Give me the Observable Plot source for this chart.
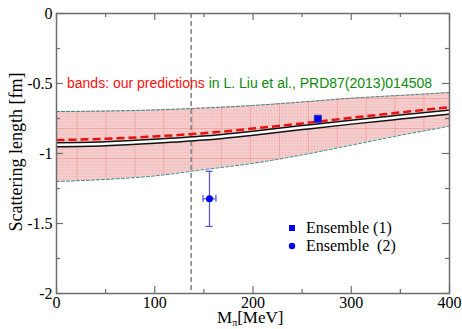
<!DOCTYPE html>
<html><head><meta charset="utf-8">
<script src="https://cdn.jsdelivr.net/npm/d3@7"></script>
<script src="https://cdn.jsdelivr.net/npm/@observablehq/plot@0.6"></script>
<style>html,body{margin:0;padding:0;background:#fff;} #chart{width:462px;height:329px;}</style>
</head><body><div id="chart"></div>
<script>
// ---- data ----
const pionMass = [0, 50, 100, 150, 200, 250, 300, 350, 400];           // MeV
const bandUpper = [-0.700, -0.697, -0.689, -0.675, -0.657, -0.632, -0.605, -0.585, -0.565];
const bandLower = [-1.200, -1.185, -1.160, -1.115, -1.070, -1.010, -0.940, -0.870, -0.805];
const predCentral = [-0.904, -0.895, -0.878, -0.855, -0.822, -0.785, -0.745, -0.707, -0.669];
const fitCurve = [-0.937, -0.930, -0.913, -0.890, -0.855, -0.815, -0.776, -0.740, -0.705];
const physicalPionMass = [137];
const ensembleNames = ["Ensemble (1)", "Ensemble  (2)"];
const ensembleMass = [266, 155.7];
const ensembleMassErr = [2.5, 6.6];
const ensembleA = [-0.752, -1.324];
const ensembleAErr = [0.008, 0.197];
const ensembleSymbol = ["square", "circle"];
const xTicks = [0, 100, 200, 300, 400];
const xMinorTicks = [50, 150, 250, 350];
const yTicks = [0, -0.5, -1, -1.5, -2];
const yTickLabels = ["0", "-0.5", "-1", "-1.5", "-2"];
const yMinorTicks = [-0.25, -0.75, -1.25, -1.75];

// ---- layout ----
const W = 462, H = 329, mL = 56, mR = 13, mT = 13, mB = 36;
const pw = W - mL - mR, ph = H - mT - mB;
const blue = "#0000f0", errBlue = "#5050d8", axisGray = "#6e6e6e";

const band = pionMass.map((m, i) => ({m, hi: bandUpper[i], lo: bandLower[i], red: predCentral[i], fit: fitCurve[i]}));
const pts = ensembleNames.map((name, i) => ({name, m: ensembleMass[i], dm: ensembleMassErr[i], a: ensembleA[i], da: ensembleAErr[i], sym: ensembleSymbol[i]}));
const capM = 3.6, capA = 0.025;

const plot = Plot.plot({
  width: W, height: H, marginLeft: mL, marginRight: mR, marginTop: mT, marginBottom: mB,
  x: {domain: [0, 400], label: null},
  y: {domain: [-2, 0], label: null},
  style: {fontFamily: "'Liberation Serif', 'Times New Roman', serif", fontSize: "16px", color: "#000", background: "#fff"},
  marks: [
    Plot.areaY(band, {x: "m", y1: "lo", y2: "hi", fill: "#f5cccc", curve: "monotone-x"}),
    Plot.areaY(band, {x: "m", y1: "lo", y2: "hi", fill: "url(#bandGrid)", curve: "monotone-x"}),
    Plot.line(band, {x: "m", y: "hi", stroke: "#3d7f80", strokeWidth: 1, strokeDasharray: "3,2", curve: "monotone-x"}),
    Plot.line(band, {x: "m", y: "lo", stroke: "#3d7f80", strokeWidth: 1, strokeDasharray: "3,2", curve: "monotone-x"}),
    Plot.ruleX(physicalPionMass, {x: d => d, stroke: "#808080", strokeWidth: 1.5, strokeDasharray: "5,3"}),
    Plot.line(band, {x: "m", y: "fit", stroke: "#111", strokeWidth: 5.5, strokeLinecap: "butt", curve: "monotone-x"}),
    Plot.line(band, {x: "m", y: "fit", stroke: "#fff", strokeWidth: 2.5, strokeLinecap: "butt", curve: "monotone-x"}),
    Plot.line(band, {x: "m", y: "red", stroke: "#e81010", strokeWidth: 2.5, strokeLinecap: "butt", strokeDasharray: "8,4", curve: "monotone-x"}),
    // error bars
    Plot.ruleX(pts, {x: "m", y1: d => d.a - d.da, y2: d => d.a + d.da, stroke: errBlue, strokeWidth: 1.2}),
    Plot.ruleY(pts, {y: "a", x1: d => d.m - d.dm, x2: d => d.m + d.dm, stroke: errBlue, strokeWidth: 1.2}),
    Plot.ruleY(pts, {y: d => d.a - d.da, x1: d => d.m - capM, x2: d => d.m + capM, stroke: errBlue, strokeWidth: 1.2}),
    Plot.ruleY(pts, {y: d => d.a + d.da, x1: d => d.m - capM, x2: d => d.m + capM, stroke: errBlue, strokeWidth: 1.2}),
    Plot.ruleX(pts, {x: d => d.m - d.dm, y1: d => d.a - capA, y2: d => d.a + capA, stroke: errBlue, strokeWidth: 1.2}),
    Plot.ruleX(pts, {x: d => d.m + d.dm, y1: d => d.a - capA, y2: d => d.a + capA, stroke: errBlue, strokeWidth: 1.2}),
    Plot.dot(pts.filter(d => d.sym === "square"), {x: "m", y: "a", symbol: "square", r: 3.9, fill: blue, stroke: "#3030b0", strokeWidth: 1}),
    Plot.dot(pts.filter(d => d.sym === "circle"), {x: "m", y: "a", symbol: "circle", r: 3.5, fill: blue, stroke: "none"}),
    // frame + inward ticks on all sides
    Plot.frame({stroke: axisGray, strokeWidth: 1.5}),
    Plot.ruleX(xTicks, {x: d => d, stroke: axisGray, strokeWidth: 1.2, insetTop: ph - 7}),
    Plot.ruleX(xTicks, {x: d => d, stroke: axisGray, strokeWidth: 1.2, insetBottom: ph - 7}),
    Plot.ruleX(xMinorTicks, {x: d => d, stroke: axisGray, strokeWidth: 1.2, insetTop: ph - 4}),
    Plot.ruleX(xMinorTicks, {x: d => d, stroke: axisGray, strokeWidth: 1.2, insetBottom: ph - 4}),
    Plot.ruleY(yTicks, {y: d => d, stroke: axisGray, strokeWidth: 1.2, insetRight: pw - 7}),
    Plot.ruleY(yTicks, {y: d => d, stroke: axisGray, strokeWidth: 1.2, insetLeft: pw - 7}),
    Plot.ruleY(yMinorTicks, {y: d => d, stroke: axisGray, strokeWidth: 1.2, insetRight: pw - 4}),
    Plot.ruleY(yMinorTicks, {y: d => d, stroke: axisGray, strokeWidth: 1.2, insetLeft: pw - 4}),
    Plot.axisX(xTicks, {tickSize: 0, tickPadding: 3, label: null, fontSize: 16}),
    Plot.axisY(yTicks, {tickSize: 0, tickPadding: 4, label: null, fontSize: 16, tickFormat: d => yTickLabels[yTicks.indexOf(d)]})
  ]
});

document.getElementById("chart").appendChild(plot);
const svg = d3.select(plot);

// band texture: stipple + grid pattern
const defs = svg.insert("defs", ":first-child");
const st = defs.append("pattern").attr("id", "stipple").attr("patternUnits", "userSpaceOnUse").attr("width", 3).attr("height", 3);
st.append("rect").attr("width", 1).attr("height", 1).attr("fill", "#ea9c9c").attr("opacity", 0.55);
const pg = defs.append("pattern").attr("id", "bandGrid").attr("patternUnits", "userSpaceOnUse")
  .attr("x", 76.7).attr("y", 128).attr("width", 28.9).attr("height", 30);
pg.append("rect").attr("width", 28.9).attr("height", 30).attr("fill", "url(#stipple)");
pg.append("line").attr("x1", 0.5).attr("x2", 0.5).attr("y1", 0).attr("y2", 30).attr("stroke", "#f0a6a6").attr("stroke-width", 1);
pg.append("line").attr("y1", 0.5).attr("y2", 0.5).attr("x1", 0).attr("x2", 28.9).attr("stroke", "#f0a6a6").attr("stroke-width", 1);

// annotation
const ann = svg.append("text").attr("x", 67).attr("y", 88).attr("text-anchor", "start")
  .style("font-family", "'Liberation Sans', Arial, sans-serif").style("font-size", "14px");
ann.append("tspan").attr("fill", "#ff1010").text("bands: our predictions");
ann.append("tspan").attr("fill", "#0a8a0a").text(" in L. Liu et al., PRD87(2013)014508");

// legend
const legY = [228, 246];
pts.forEach((d, i) => {
  if (d.sym === "square") svg.append("rect").attr("x", 289).attr("y", legY[i] - 3).attr("width", 6).attr("height", 6).attr("fill", blue);
  else svg.append("circle").attr("cx", 292).attr("cy", legY[i]).attr("r", 3.2).attr("fill", blue);
  svg.append("text").attr("x", 306).attr("y", legY[i] + 5).attr("text-anchor", "start").style("white-space", "pre")
    .style("font-family", "'Liberation Serif', serif").style("font-size", "16px").text(d.name);
});

// axis titles
const xl = svg.append("text").attr("x", 217).attr("y", 323).attr("text-anchor", "start")
  .style("font-family", "'Liberation Serif', serif").style("font-size", "17px");
xl.append("tspan").text("M");
xl.append("tspan").attr("dy", 3).style("font-size", "10px").text("π");
xl.append("tspan").attr("dy", -3).text("[MeV]");
svg.append("text").attr("transform", "translate(22,152) rotate(-90)").attr("text-anchor", "middle")
  .style("font-family", "'Liberation Serif', serif").style("font-size", "18px").text("Scattering length [fm]");
</script>
</body></html>
